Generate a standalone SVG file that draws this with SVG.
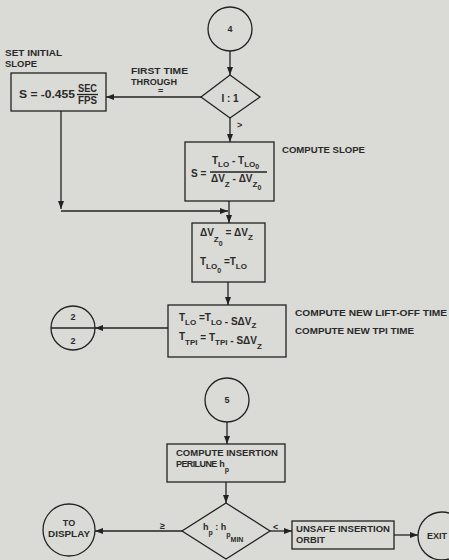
<svg xmlns="http://www.w3.org/2000/svg" width="449" height="560" viewBox="0 0 449 560">
<style>
.s{fill:none;stroke:#222;stroke-width:1.3}
.c{fill:none;stroke:#222;stroke-width:1.3}
.t{font-family:"Liberation Sans",Arial,sans-serif;font-size:9px;font-weight:bold;fill:#2a2a2a}
.m{font-family:"Liberation Sans",Arial,sans-serif;font-size:10px;font-weight:bold;fill:#2a2a2a}
.sub{font-size:8px}
.ss{font-size:7px}
.mid{text-anchor:middle}
</style>
<defs>
<marker id="a" markerUnits="userSpaceOnUse" markerWidth="8" markerHeight="6" refX="8" refY="3" orient="auto">
<path d="M0,0 L8,3 L0,6 z" fill="#222"/>
</marker>
</defs>
<rect width="449" height="560" fill="#dadad6"/>

<g id="connectors" class="c">
<path d="M230,51 V75" marker-end="url(#a)"/>
<path d="M201,97 H106" marker-end="url(#a)"/>
<path d="M230,118 V142" marker-end="url(#a)"/>
<path d="M61,111 V209" marker-end="url(#a)"/>
<path d="M61,211 H228" marker-end="url(#a)"/>
<path d="M229,201 V223" marker-end="url(#a)"/>
<path d="M228,282 V305" marker-end="url(#a)"/>
<path d="M168,328 H95" marker-end="url(#a)"/>
<path d="M227,422 V444" marker-end="url(#a)"/>
<path d="M226,482 V503" marker-end="url(#a)"/>
<path d="M182,531 H95" marker-end="url(#a)"/>
<path d="M270,531 H292" marker-end="url(#a)"/>
<path d="M394,535 H418" marker-end="url(#a)"/>
</g>

<g id="labels">
<text class="t" x="131" y="74" textLength="57" lengthAdjust="spacingAndGlyphs">FIRST TIME</text>
<text class="t" x="131" y="85" textLength="46" lengthAdjust="spacingAndGlyphs">THROUGH</text>
<text class="t" x="158" y="94">=</text>
<text class="t" x="237" y="128">&gt;</text>
<text class="t" x="160" y="529">≥</text>
<text class="t" x="273" y="530">&lt;</text>
</g>

<g id="n4">
<circle class="s" cx="230" cy="29" r="22"/>
<text class="t mid" x="230" y="32">4</text>
</g>

<g id="d1">
<path class="s" d="M230,75 L260,97 L230,118 L201,97 z"/>
<text class="m mid" x="230" y="102">I : 1</text>
</g>

<g id="b1">
<text class="t" x="5" y="56" textLength="57" lengthAdjust="spacingAndGlyphs">SET INITIAL</text>
<text class="t" x="5" y="67" textLength="32" lengthAdjust="spacingAndGlyphs">SLOPE</text>
<rect class="s" x="11" y="73" width="95" height="38"/>
<text class="m" x="19" y="98" textLength="56" lengthAdjust="spacingAndGlyphs">S = -0.455</text>
<text class="m mid" x="87.5" y="92" textLength="19" lengthAdjust="spacingAndGlyphs">SEC</text>
<path class="s" d="M77,94.5 H98"/>
<text class="m mid" x="87.5" y="104" textLength="19" lengthAdjust="spacingAndGlyphs">FPS</text>
</g>

<g id="b2">
<rect class="s" x="185" y="142" width="89" height="59"/>
<text class="t" x="282" y="153" textLength="83" lengthAdjust="spacingAndGlyphs">COMPUTE SLOPE</text>
<text class="m" x="212" y="164">T<tspan class="sub" dy="3">LO</tspan><tspan dy="-3"> - T</tspan><tspan class="sub" dy="3">LO</tspan><tspan class="ss" dy="2">0</tspan></text>
<path class="s" d="M210,172 H267"/>
<text class="m" x="191" y="177">S =</text>
<text class="m" x="211" y="182">ΔV<tspan class="sub" dy="5">Z</tspan><tspan dy="-5"> - ΔV</tspan><tspan class="sub" dy="5">Z</tspan><tspan class="ss" dy="3">0</tspan></text>
</g>

<g id="b3">
<rect class="s" x="192" y="223" width="73" height="59"/>
<text class="m" x="200" y="236">ΔV<tspan class="sub" dy="6">Z</tspan><tspan class="ss" dy="4">0</tspan><tspan dy="-10"> = ΔV</tspan><tspan class="sub" dy="4">Z</tspan></text>
<text class="m" x="200" y="265">T<tspan class="sub" dy="4">LO</tspan><tspan class="ss" dy="4">0</tspan><tspan dy="-8"> =T</tspan><tspan class="sub" dy="4">LO</tspan></text>
</g>

<g id="b4">
<rect class="s" x="168" y="305" width="118" height="52"/>
<text class="t" x="295" y="316" textLength="152" lengthAdjust="spacingAndGlyphs">COMPUTE NEW LIFT-OFF TIME</text>
<text class="t" x="295" y="334" textLength="119" lengthAdjust="spacingAndGlyphs">COMPUTE NEW TPI TIME</text>
<text class="m" x="179" y="321">T<tspan class="sub" dy="4">LO</tspan><tspan dy="-4"> =T</tspan><tspan class="sub" dy="4">LO</tspan><tspan dy="0"> - SΔV</tspan><tspan class="sub" dy="3">Z</tspan></text>
<text class="m" x="179" y="340">T<tspan class="sub" dy="5">TPI</tspan><tspan dy="-4"> = T</tspan><tspan class="sub" dy="4">TPI</tspan><tspan dy="-1"> - SΔV</tspan><tspan class="sub" dy="5">Z</tspan></text>
</g>

<g id="n2">
<circle class="s" cx="73" cy="328" r="22"/>
<path class="s" d="M51,328 H95"/>
<text class="t mid" x="73" y="320">2</text>
<text class="t mid" x="73" y="344">2</text>
</g>

<g id="n5">
<circle class="s" cx="227" cy="400" r="22"/>
<text class="t mid" x="227" y="403">5</text>
</g>

<g id="b5">
<rect class="s" x="167" y="444" width="118" height="38"/>
<text class="t" x="176" y="456" textLength="102" lengthAdjust="spacingAndGlyphs">COMPUTE INSERTION</text>
<text class="t" x="176" y="467" style="letter-spacing:-0.6px">PERILUNE<tspan style="letter-spacing:0"> h</tspan><tspan class="ss" dy="5" style="letter-spacing:0">p</tspan></text>
</g>

<g id="d2">
<path class="s" d="M226,503 L270,531 L226,559 L182,531 z"/>
<text class="t" x="203" y="530">h<tspan class="ss" dy="5">p</tspan><tspan dy="-5"> : h</tspan><tspan class="ss" dy="7">p</tspan><tspan class="ss" dy="5">MIN</tspan></text>
</g>

<g id="ndisp">
<circle class="s" cx="69" cy="530" r="26"/>
<text class="t mid" x="69" y="526">TO</text>
<text class="t mid" x="69" y="537" textLength="42" lengthAdjust="spacingAndGlyphs">DISPLAY</text>
</g>

<g id="b6">
<rect class="s" x="292" y="521" width="102" height="28"/>
<text class="t" x="296" y="532" textLength="94" lengthAdjust="spacingAndGlyphs">UNSAFE INSERTION</text>
<text class="t" x="296" y="543" textLength="29" lengthAdjust="spacingAndGlyphs">ORBIT</text>
</g>

<g id="nexit">
<circle class="s" cx="442" cy="536" r="24"/>
<text class="t" x="427" y="539" textLength="20" lengthAdjust="spacingAndGlyphs">EXIT</text>
</g>
</svg>
